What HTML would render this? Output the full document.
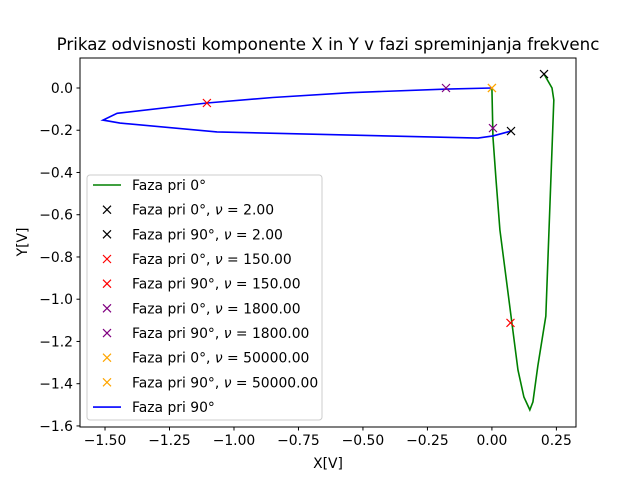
<!DOCTYPE html>
<html><head><meta charset="utf-8"><style>
body{margin:0;background:#fff}
svg{font-family:"DejaVu Sans","Liberation Sans",sans-serif}
</style></head><body>
<svg id="c" width="640" height="480" viewBox="0 0 640 480">
<rect width="640" height="480" fill="#fff"/>
<text x="328" y="50" font-size="16.7" text-anchor="middle">Prikaz odvisnosti komponente X in Y v fazi spreminjanja frekvenc</text>
<g id="plot"></g>
<text x="328" y="468" font-size="13.9" text-anchor="middle">X[V]</text>
<text x="27" y="242" font-size="13.9" text-anchor="middle" transform="rotate(-90 27 242)">Y[V]</text>
</svg>
<script>
const greenX=[0.202,0.233,0.240,0.209,0.178,0.159,0.147,0.124,0.101,0.078,0.031,0.016,0.004,0.0];
const greenY=[0.066,0.0,-0.057,-1.08,-1.316,-1.486,-1.524,-1.463,-1.335,-1.117,-0.672,-0.436,-0.232,0.0];
const blueX=[0.074,0.004,-0.054,-1.066,-1.442,-1.508,-1.453,-1.105,-0.85,-0.55,-0.174,0.0];
const blueY=[-0.204,-0.227,-0.237,-0.208,-0.166,-0.152,-0.12,-0.071,-0.045,-0.022,-0.005,0.0];
const markerX=[0.202,0.074,0.072,-1.105,-0.178,0.004,0.0,0.0];
const markerY=[0.066,-0.204,-1.112,-0.071,0.0,-0.19,0.0,0.0];
const markerColors=["black","black","red","red","purple","purple","orange","orange"];
const xTicks=[-1.5,-1.25,-1.0,-0.75,-0.5,-0.25,0.0,0.25];
const yTicks=[0.0,-0.2,-0.4,-0.6,-0.8,-1.0,-1.2,-1.4,-1.6];
const legendLabels=["Faza pri 0°","Faza pri 0°, |ν| = 2.00","Faza pri 90°, |ν| = 2.00","Faza pri 0°, |ν| = 150.00","Faza pri 90°, |ν| = 150.00","Faza pri 0°, |ν| = 1800.00","Faza pri 90°, |ν| = 1800.00","Faza pri 0°, |ν| = 50000.00","Faza pri 90°, |ν| = 50000.00","Faza pri 90°"];
const legendKinds=["line:green","x:black","x:black","x:red","x:red","x:purple","x:purple","x:orange","x:orange","line:blue"];

const L=80,R=576,T=58,B=427;
const xMin=-1.597,xMax=0.326,yMin=-1.605,yMax=0.142;
const sx=v=>L+(v-xMin)/(xMax-xMin)*(R-L);
const sy=v=>B-(v-yMin)/(yMax-yMin)*(B-T);
const NS="http://www.w3.org/2000/svg";
const g=document.getElementById('plot');
const fmt=(v,d)=>v.toFixed(d).replace('-','\u2212');
function mk(t,a,p){const e=document.createElementNS(NS,t);for(const k in a)e.setAttribute(k,a[k]);(p||g).appendChild(e);return e;}
function cross(x,y,c,p){return mk('path',{d:`M${x-4},${y-4}L${x+4},${y+4}M${x-4},${y+4}L${x+4},${y-4}`,stroke:c,'stroke-width':1.2,fill:'none'},p);}

const gl=mk('polyline',{points:greenX.map((v,i)=>sx(v)+','+sy(greenY[i])).join(' '),fill:'none',stroke:'green','stroke-width':1.6});


const bl=mk('polyline',{points:blueX.map((v,i)=>sx(v)+','+sy(blueY[i])).join(' '),fill:'none',stroke:'blue','stroke-width':1.6});


markerX.forEach((v,i)=>{const m=cross(sx(v),sy(markerY[i]),markerColors[i]);

});

const ax=mk('rect',{x:L,y:T,width:R-L,height:B-T,fill:'none',stroke:'#000','stroke-width':1});


xTicks.forEach(v=>{const x=sx(v);mk('line',{x1:x,x2:x,y1:B,y2:B+3.5,stroke:'#000'});
const t=mk('text',{x:x,y:B+18,'font-size':13.9,'text-anchor':'middle'});t.textContent=fmt(v,2);

});
yTicks.forEach(v=>{const y=sy(v);mk('line',{x1:L-3.5,x2:L,y1:y,y2:y,stroke:'#000'});
const t=mk('text',{x:L-7,y:y+5,'font-size':13.9,'text-anchor':'end'});t.textContent=fmt(v,1);

});

const lg=mk('g',{});


mk('rect',{x:87,y:175,width:235,height:245,rx:3,fill:'#fff','fill-opacity':0.8,stroke:'#ccc'},lg);
legendLabels.forEach((s,i)=>{const y=185+i*24.67;const [k,c]=legendKinds[i].split(':');
if(k==='line')mk('line',{x1:93,x2:121,y1:y,y2:y,stroke:c,'stroke-width':1.6},lg);else cross(107,y,c,lg);
const t=mk('text',{x:132,y:y+5,'font-size':13.9},lg);
const parts=s.split('|');
parts.forEach((p,j)=>{const ts=document.createElementNS(NS,'tspan');ts.textContent=p;if(j===1)ts.setAttribute('font-style','italic');t.appendChild(ts);});

});
</script>
</body></html>
